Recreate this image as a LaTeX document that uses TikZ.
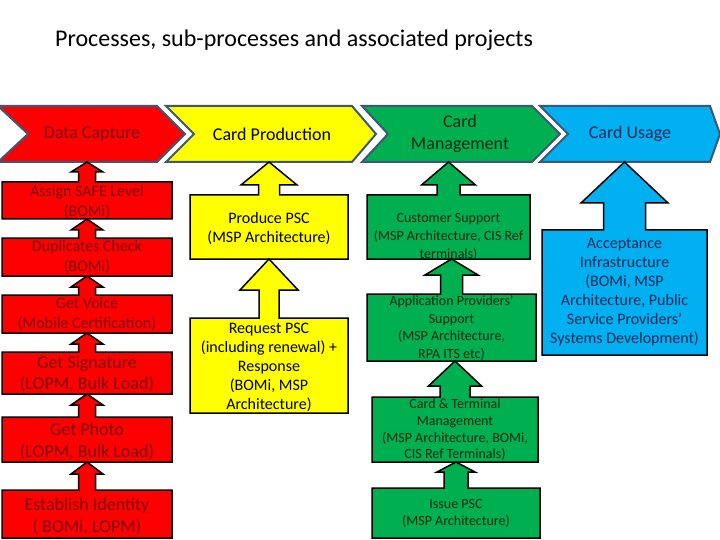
\documentclass[tikz,border=0pt]{standalone}
\usepackage{fontspec}
\setmainfont{Carlito}
\definecolor{cred}{HTML}{FF0000}
\definecolor{cyel}{HTML}{FFFF00}
\definecolor{cgrn}{HTML}{00B050}
\definecolor{cblu}{HTML}{00B0F0}
\definecolor{tred}{HTML}{7A0A0A}
\definecolor{tgrn}{HTML}{0A2A12}
\definecolor{tblu}{HTML}{0D2A5A}
\definecolor{chevline}{HTML}{3B5878}
\tikzset{
  chev/.style={draw=chevline, line width=2pt, line join=miter},
  callout/.style={draw=black, line width=1.5pt, line join=miter},
  lbl/.style={align=center, inner sep=0pt},
}
\newcommand\ucall[9]{%
  \pgfmathsetmacro\cx{(#2+#4)/2}%
  \draw[#1] (#2,#3) -- (\cx-#9,#3) -- (\cx-#9,#7) -- (\cx-#8,#7) -- (\cx,#6)
    -- (\cx+#8,#7) -- (\cx+#9,#7) -- (\cx+#9,#3) -- (#4,#3) -- (#4,#5) -- (#2,#5) -- cycle;
}
\newcommand\chevron[6]{% style x1 xr xtip notch y
  \draw[#1] (#2,106) -- (#3,106) -- (#4,134) -- (#3,162) -- (#2,162) -- (#5,134) -- cycle;
}
\begin{document}
\begin{tikzpicture}[x=1pt,y=-1pt]
\useasboundingbox (0,0) rectangle (720,540);
\fill[white] (0,0) rectangle (720,540);
% title
\node[anchor=west, inner sep=0pt, font=\fontsize{24}{28}\selectfont] (title) at (55,40) {Processes, sub-processes and associated projects};
% chevrons
\begin{scope}
\clip (0,0) rectangle (720,540);
\chevron{chev, fill=cred}{-2}{157}{185}{28}{}
\chevron{chev, fill=cyel}{166}{352}{376}{194}{}
\chevron{chev, fill=cgrn}{362}{532}{560}{388}{}
\chevron{chev, fill=cblu}{540}{710}{720}{568}{}
\end{scope}
\node[lbl, text=tred, font=\fontsize{18}{21}\selectfont] (dc) at (92,134) {Data Capture};
\node[lbl, text=black, font=\fontsize{18}{21}\selectfont] (cp) at (272,134) {Card Production};
\node[lbl, text=tgrn, font=\fontsize{18}{22}\selectfont] (cm) at (460,134) {Card\\Management};
\node[lbl, text=tblu, font=\fontsize{18}{21}\selectfont] (cu) at (630,134) {Card Usage};
% red column
\ucall{callout, fill=cred}{2}{182}{172}{219}{162}{172}{16}{8.5}
\ucall{callout, fill=cred}{2}{238}{172}{276}{219}{230}{16}{8.5}
\ucall{callout, fill=cred}{2}{295}{172}{333}{276}{287}{16}{8.5}
\ucall{callout, fill=cred}{2}{352}{172}{394}{333}{344}{16}{8.5}
\ucall{callout, fill=cred}{2}{417}{172}{462}{394}{405}{16}{8.5}
\ucall{callout, fill=cred}{2}{490}{172}{538}{462}{474}{16}{8.5}
\node[lbl, text=tred, font=\fontsize{16}{20}\selectfont] (r1) at (87,202) {Assign SAFE Level\\(BOMi)};
\node[lbl, text=tred, font=\fontsize{16}{20}\selectfont] (r2) at (87,257.5) {Duplicates Check\\(BOMi)};
\node[lbl, text=tred, font=\fontsize{16}{20}\selectfont] (r3) at (87,314.5) {Get Voice\\(Mobile Certification)};
\node[lbl, text=tred, font=\fontsize{18}{21}\selectfont] (r4) at (87,374.5) {Get Signature\\(LOPM, Bulk Load)};
\node[lbl, text=tred, font=\fontsize{18}{22}\selectfont] (r5) at (87,441) {Get Photo\\(LOPM, Bulk Load)};
\node[lbl, text=tred, font=\fontsize{18}{22}\selectfont] (r6) at (87,516) {Establish Identity\\( BOMi, LOPM)};
% yellow column
\ucall{callout, fill=cyel}{190}{195}{348}{259}{162}{185}{28}{10.5}
\ucall{callout, fill=cyel}{190}{318}{348}{413}{259}{290}{29}{10}
\node[lbl, text=black, font=\fontsize{16}{19}\selectfont] (y1) at (269,228.5) {Produce PSC\\(MSP Architecture)};
\node[lbl, text=black, font=\fontsize{16}{19}\selectfont] (y2) at (269,367.5) {Request PSC\\(including renewal) +\\Response\\(BOMi, MSP\\Architecture)};
% green column
\ucall{callout, fill=cgrn}{367}{195}{530}{259}{162}{185}{27}{11.5}
\ucall{callout, fill=cgrn}{367}{294}{536}{361}{259}{275}{26.5}{11}
\ucall{callout, fill=cgrn}{372}{397}{538}{462}{361}{386}{26.5}{15}
\ucall{callout, fill=cgrn}{372}{488}{540}{538}{462}{472}{19}{12}
\node[lbl, text=tgrn, font=\fontsize{14}{18}\selectfont] (g1) at (448.5,237) {Customer Support\\(MSP Architecture, CIS Ref\\terminals)};
\node[lbl, text=tgrn, font=\fontsize{14}{17.5}\selectfont] (g2) at (451.5,328) {Application Providers'\\Support\\(MSP Architecture,\\RPA ITS etc)};
\node[lbl, text=tgrn, font=\fontsize{14}{16.7}\selectfont] (g3) at (455,430) {Card \& Terminal\\Management\\(MSP Architecture, BOMi,\\CIS Ref Terminals)};
\node[lbl, text=tgrn, font=\fontsize{14}{17}\selectfont] (g4) at (456,513.5) {Issue PSC\\(MSP Architecture)};
% blue column
\ucall{callout, fill=cblu}{542}{230}{707}{355}{162}{203}{43.5}{21}
\node[lbl, text=tblu, font=\fontsize{16}{19}\selectfont] (b1) at (624.5,292.5) {Acceptance\\Infrastructure\\(BOMi, MSP\\Architecture, Public\\Service Providers'\\Systems Development)};
\end{tikzpicture}
\end{document}
